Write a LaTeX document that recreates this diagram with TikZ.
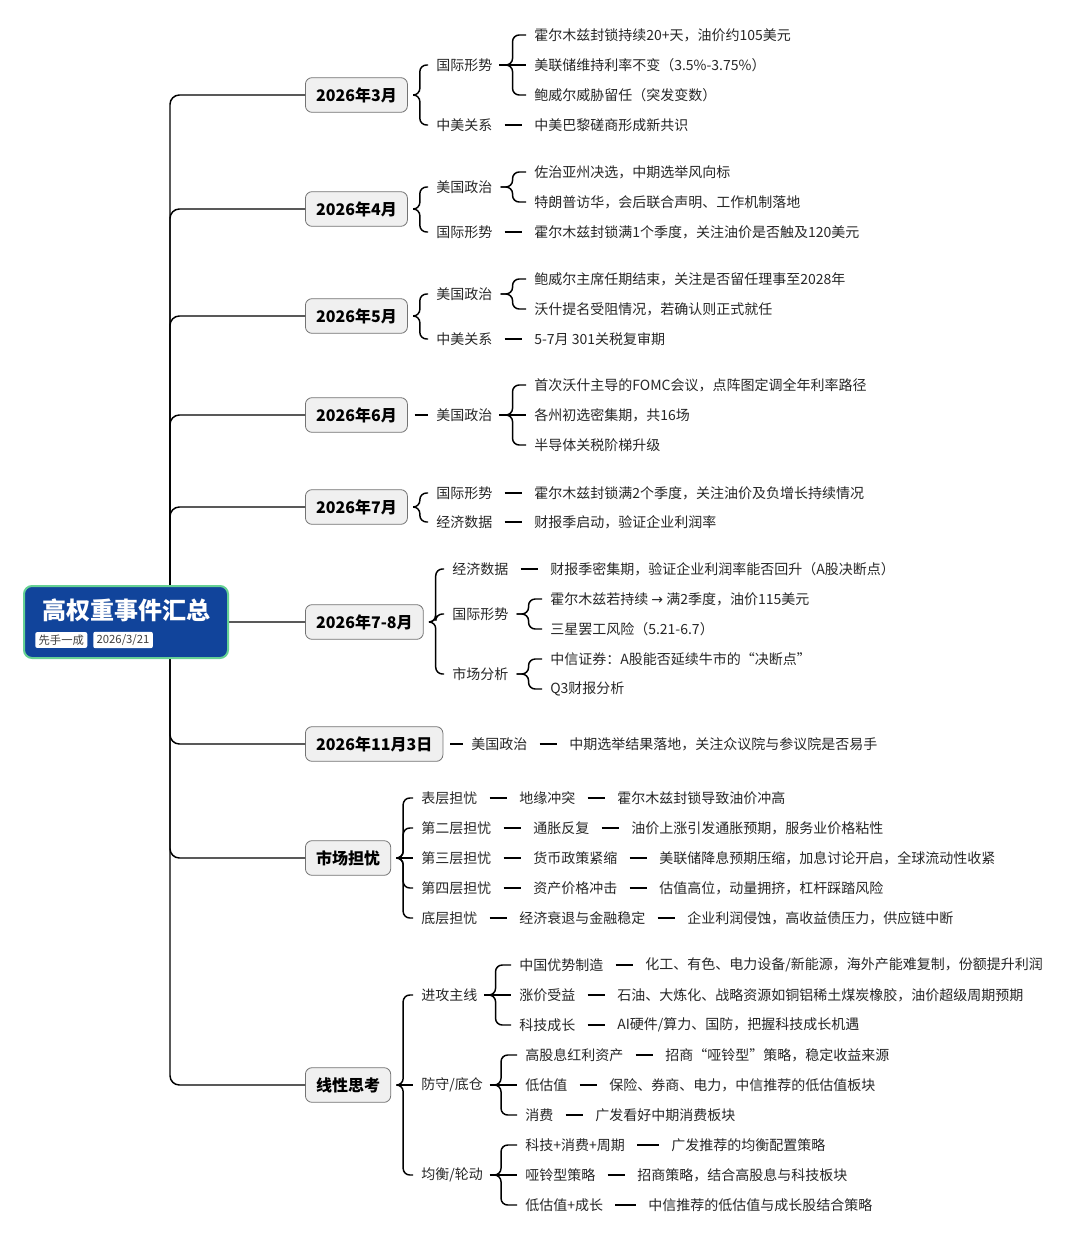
\documentclass[tikz,border=0pt]{standalone}
\usepackage{fontspec}
\setmainfont{Noto Sans CJK SC}
\begin{document}
\begin{tikzpicture}[x=0.75pt,y=-0.75pt,
 conn/.style={line width=1.1pt,black,rounded corners=5pt},
 txt/.style={inner sep=0pt,font=\fontsize{10.5pt}{12pt}\selectfont,text=black!85},
 month/.style={draw=black!55,fill=black!6,rounded corners=5pt,line width=0.6pt,inner xsep=8pt,minimum height=26pt,font=\fontsize{12pt}{14pt}\selectfont\bfseries,anchor=west},
 tag/.style={fill=white,rounded corners=1.5pt,inner xsep=2.5pt,inner ysep=2pt,font=\fontsize{8.5pt}{9pt}\selectfont,text=black!75}]
\useasboundingbox (0,0) rectangle (1080,1241);
\newcommand\tn[4]{\node[txt,anchor=west] (#1) at (#2,#3) {#4};}
\newcommand\cn[2]{\draw[conn] ([xshift=9pt]#1.east) -- ([xshift=-9pt]#2.west);}
\newcommand\sn[2]{\draw[conn] ([xshift=5pt]#1.east) -- ([xshift=-6pt]#2.west);}
\newcommand\bk[3]{\draw[conn] ([xshift=6pt]#1.east) -- ++(#3,0) |- ([xshift=-6pt]#2.west);}
% months
\node[month] (m3) at (305,95) {2026年3月};
\node[month] (m4) at (305,209) {2026年4月};
\node[month] (m5) at (305,316) {2026年5月};
\node[month] (m6) at (305,415) {2026年6月};
\node[month] (m7) at (305,507) {2026年7月};
\node[month] (m78) at (305,622) {2026年7-8月};
\node[month] (m11) at (305,744) {2026年11月3日};
\node[month] (mw) at (305,858) {市场担忧};
\node[month] (mx) at (305,1085) {线性思考};
\foreach \m in {m3,m4,m5,m6,m7,m78,m11,mw,mx}{\draw[conn,rounded corners=7pt] (170,622) |- (\m.west);}
% March
\tn{a1}{436}{65}{国际形势}\tn{a2}{436}{125}{中美关系}
\tn{a11}{534}{35}{霍尔木兹封锁持续20+天，油价约105美元}
\tn{a12}{534}{65}{美联储维持利率不变（3.5\%-3.75\%）}
\tn{a13}{534}{95}{鲍威尔威胁留任（突发变数）}
\tn{a21}{534}{125}{中美巴黎磋商形成新共识}
\bk{m3}{a1}{4}\bk{m3}{a2}{4}
\bk{a1}{a11}{12}\sn{a1}{a12}\bk{a1}{a13}{12}\cn{a2}{a21}
% April
\tn{b1}{436}{187}{美国政治}\tn{b2}{436}{232}{国际形势}
\tn{b11}{534}{172}{佐治亚州决选，中期选举风向标}
\tn{b12}{534}{202}{特朗普访华，会后联合声明、工作机制落地}
\tn{b21}{534}{232}{霍尔木兹封锁满1个季度，关注油价是否触及120美元}
\bk{m4}{b1}{4}\bk{m4}{b2}{4}\bk{b1}{b11}{12}\bk{b1}{b12}{12}\cn{b2}{b21}
% May
\tn{c1}{436}{294}{美国政治}\tn{c2}{436}{339}{中美关系}
\tn{c11}{534}{279}{鲍威尔主席任期结束，关注是否留任理事至2028年}
\tn{c12}{534}{309}{沃什提名受阻情况，若确认则正式就任}
\tn{c21}{534}{339}{5-7月 301关税复审期}
\bk{m5}{c1}{4}\bk{m5}{c2}{4}\bk{c1}{c11}{12}\bk{c1}{c12}{12}\cn{c2}{c21}
% June
\tn{d1}{436}{415}{美国政治}
\tn{d11}{534}{385}{首次沃什主导的FOMC会议，点阵图定调全年利率路径}
\tn{d12}{534}{415}{各州初选密集期，共16场}
\tn{d13}{534}{445}{半导体关税阶梯升级}
\sn{m6}{d1}\bk{d1}{d11}{12}\sn{d1}{d12}\bk{d1}{d13}{12}
% July
\tn{e1}{436}{493}{国际形势}\tn{e2}{436}{522}{经济数据}
\tn{e11}{534}{493}{霍尔木兹封锁满2个季度，关注油价及负增长持续情况}
\tn{e21}{534}{522}{财报季启动，验证企业利润率}
\bk{m7}{e1}{4}\bk{m7}{e2}{4}\cn{e1}{e11}\cn{e2}{e21}
% Jul-Aug
\tn{f1}{452}{569}{经济数据}\tn{f2}{452}{614}{国际形势}\tn{f3}{452}{674}{市场分析}
\tn{f11}{550}{569}{财报季密集期，验证企业利润率能否回升（A股决断点）}
\tn{f21}{550}{599}{霍尔木兹若持续 {\fontspec{DejaVu Sans}→} 满2季度，油价115美元}
\tn{f22}{550}{629}{三星罢工风险（5.21-6.7）}
\tn{f31}{550}{659}{中信证券：A股能否延续牛市的“决断点”}
\tn{f32}{550}{689}{Q3财报分析}
\bk{m78}{f1}{4}\bk{m78}{f2}{4}\bk{m78}{f3}{4}
\cn{f1}{f11}\bk{f2}{f21}{12}\bk{f2}{f22}{12}\bk{f3}{f31}{12}\bk{f3}{f32}{12}
% Nov
\tn{g1}{471}{744}{美国政治}\tn{g11}{569}{744}{中期选举结果落地，关注众议院与参议院是否易手}
\sn{m11}{g1}\cn{g1}{g11}
% worries
\tn{h1}{421}{798}{表层担忧}\tn{h1a}{519}{798}{地缘冲突}\tn{h1b}{617}{798}{霍尔木兹封锁导致油价冲高}
\tn{h2}{421}{828}{第二层担忧}\tn{h2a}{533}{828}{通胀反复}\tn{h2b}{631}{828}{油价上涨引发通胀预期，服务业价格粘性}
\tn{h3}{421}{858}{第三层担忧}\tn{h3a}{533}{858}{货币政策紧缩}\tn{h3b}{659}{858}{美联储降息预期压缩，加息讨论开启，全球流动性收紧}
\tn{h4}{421}{888}{第四层担忧}\tn{h4a}{533}{888}{资产价格冲击}\tn{h4b}{659}{888}{估值高位，动量拥挤，杠杆踩踏风险}
\tn{h5}{421}{918}{底层担忧}\tn{h5a}{519}{918}{经济衰退与金融稳定}\tn{h5b}{687}{918}{企业利润侵蚀，高收益债压力，供应链中断}
\foreach \i in {1,2,4,5}{\bk{mw}{h\i}{4}}
\sn{mw}{h3}
\foreach \i in {1,...,5}{\cn{h\i}{h\i a}\cn{h\i a}{h\i b}}
% linear thinking
\tn{k1}{421}{995}{进攻主线}\tn{k2}{421}{1085}{防守/底仓}\tn{k3}{421}{1175}{均衡/轮动}
\bk{mx}{k1}{4}\sn{mx}{k2}\bk{mx}{k3}{4}
\tn{k11}{519}{965}{中国优势制造}\tn{k11b}{645}{965}{化工、有色、电力设备/新能源，海外产能难复制，份额提升利润}
\tn{k12}{519}{995}{涨价受益}\tn{k12b}{617}{995}{石油、大炼化、战略资源如铜铝稀土煤炭橡胶，油价超级周期预期}
\tn{k13}{519}{1025}{科技成长}\tn{k13b}{617}{1025}{AI硬件/算力、国防，把握科技成长机遇}
\tn{k21}{525}{1055}{高股息红利资产}\tn{k21b}{665}{1055}{招商“哑铃型”策略，稳定收益来源}
\tn{k22}{525}{1085}{低估值}\tn{k22b}{609}{1085}{保险、券商、电力，中信推荐的低估值板块}
\tn{k23}{525}{1115}{消费}\tn{k23b}{595}{1115}{广发看好中期消费板块}
\tn{k31}{525}{1145}{科技+消费+周期}\tn{k31b}{671}{1145}{广发推荐的均衡配置策略}
\tn{k32}{525}{1175}{哑铃型策略}\tn{k32b}{637}{1175}{招商策略，结合高股息与科技板块}
\tn{k33}{525}{1205}{低估值+成长}\tn{k33b}{648}{1205}{中信推荐的低估值与成长股结合策略}
\foreach \i in {1,2,3}{\bk{k\i}{k\i1}{10}\sn{k\i}{k\i2}\bk{k\i}{k\i3}{10}
  \foreach \j in {1,2,3}{\cn{k\i\j}{k\i\j b}}}
% root
\node[draw=teal!60!green!60,line width=1.5pt,fill={rgb,255:red,17;green,68;blue,155},rounded corners=6pt,minimum width=153pt,minimum height=54pt] (root) at (126,622) {};
\node[text=white,font=\fontsize{18pt}{20pt}\selectfont\bfseries] (title) at (126,610) {高权重事件汇总};
\node[tag,anchor=west] (t1) at (35,640) {先手一成};
\node[tag,anchor=west] (t2) at (93,640) {2026/3/21};
\end{tikzpicture}
\end{document}
